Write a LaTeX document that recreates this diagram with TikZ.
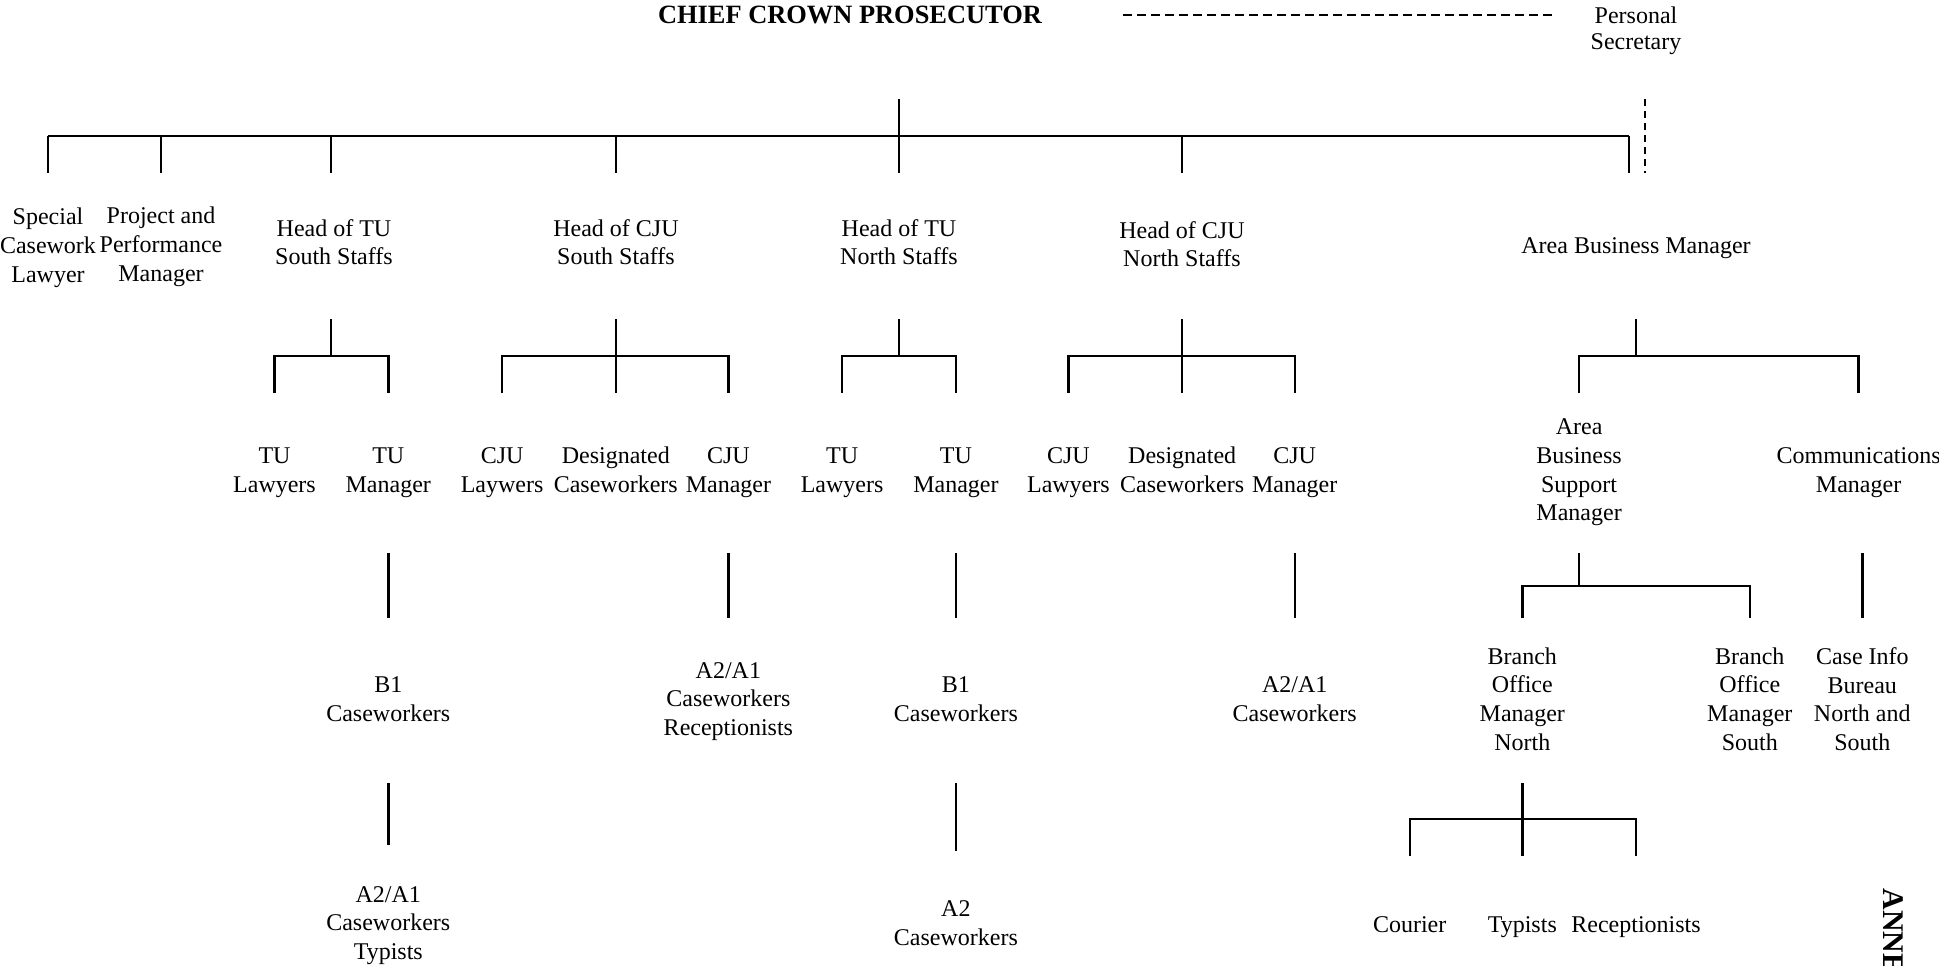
\documentclass[tikz,border=0pt]{standalone}
\usepackage{fontspec}
\setmainfont{Liberation Serif}
\begin{document}
\begin{tikzpicture}[x=0.5pt,y=-0.5pt,
  lbl/.style={align=center, inner sep=0pt, text depth=0pt, font=\fontsize{12}{14.35}\selectfont},
  ttl/.style={inner sep=0pt, font=\bfseries\fontsize{13.2}{15}\selectfont},
  ln/.style={line width=1.2pt},
  dln/.style={line width=1pt, dash pattern=on 4.5pt off 2.5pt}]
\useasboundingbox (0,0) rectangle (1939,965);

% ---------- top ----------
\node[ttl] (ccp) at (850,15) {CHIEF CROWN PROSECUTOR};
\node[lbl, font=\fontsize{12}{13}\selectfont] (ps) at (1636,28) {Personal\\Secretary};
\coordinate (d1) at (1123,15);
\coordinate (d2) at (1553,15);
\draw[dln] (d1) -- (d2);

% ---------- level 1 ----------
\node[lbl] (scl) at (48,245) {Special\\Casework\\Lawyer};
\node[lbl] (ppm) at (161,244) {Project and\\Performance\\Manager};
\node[lbl] (htus) at (334,242) {Head of TU\\South Staffs};
\node[lbl] (hcjus) at (616,242) {Head of CJU\\South Staffs};
\node[lbl] (htun) at (899,242) {Head of TU\\North Staffs};
\node[lbl] (hcjun) at (1182,244) {Head of CJU\\North Staffs};
\node[lbl] (abm) at (1636,246) {Area Business Manager};

% ---------- level 2 ----------
\node[lbl] (tul1) at (274.5,470) {TU\\Lawyers};
\node[lbl] (tum1) at (388.3,470) {TU\\Manager};
\node[lbl] (cjul1) at (502.1,470) {CJU\\Laywers};
\node[lbl] (dc1) at (615.8,470) {Designated\\Caseworkers};
\node[lbl] (cjum1) at (728.4,470) {CJU\\Manager};
\node[lbl] (tul2) at (842.1,470) {TU\\Lawyers};
\node[lbl] (tum2) at (955.9,470) {TU\\Manager};
\node[lbl] (cjul2) at (1068.4,470) {CJU\\Lawyers};
\node[lbl] (dc2) at (1182.2,470) {Designated\\Caseworkers};
\node[lbl] (cjum2) at (1294.7,470) {CJU\\Manager};
\node[lbl] (absm) at (1579.1,470) {Area\\Business\\Support\\Manager};
\node[lbl] (cm) at (1858.6,470) {Communications\\Manager};

% ---------- level 3 ----------
\node[lbl] (b1a) at (388.3,699) {B1\\Caseworkers};
\node[lbl] (a2r) at (728.4,699) {A2/A1\\Caseworkers\\Receptionists};
\node[lbl] (b1b) at (955.9,699) {B1\\Caseworkers};
\node[lbl] (a2c) at (1294.7,699) {A2/A1\\Caseworkers};
\node[lbl] (bomn) at (1522.3,699) {Branch\\Office\\Manager\\North};
\node[lbl] (boms) at (1749.8,699) {Branch\\Office\\Manager\\South};
\node[lbl] (cib) at (1862.3,699) {Case Info\\Bureau\\North and\\South};

% ---------- level 4 ----------
\node[lbl] (a2t) at (388.3,923) {A2/A1\\Caseworkers\\Typists};
\node[lbl] (a2w) at (955.9,923) {A2\\Caseworkers};
\node[lbl] (cour) at (1409.7,925) {Courier};
\node[lbl] (typ) at (1522.3,925) {Typists};
\node[lbl] (rec) at (1636,925) {Receptionists};

% ---------- row levels ----------
\coordinate (yA) at (0,99);
\coordinate (yB) at (0,136);
\coordinate (yC) at (0,173);
\coordinate (y2a) at (0,319);
\coordinate (y2b) at (0,356);
\coordinate (y2c) at (0,393);
\coordinate (y3a) at (0,553);
\coordinate (y3b) at (0,586);
\coordinate (y3c) at (0,618);
\coordinate (y4a) at (0,783);
\coordinate (y4b) at (0,819);
\coordinate (y4c) at (0,856);

% ---------- top bus ----------
\coordinate (bL) at (48,136);
\coordinate (bR) at (1629,136);
\coordinate (sL) at (331,136);
\draw[ln] (htun |- yA) -- (htun |- yC);
\draw[ln] (bL) -- (bR);
\draw[ln] (scl |- yB) -- (scl |- yC);
\draw[ln] (ppm |- yB) -- (ppm |- yC);
\draw[ln] (sL) -- (sL |- yC);
\draw[ln] (hcjus |- yB) -- (hcjus |- yC);
\draw[ln] (hcjun |- yB) -- (hcjun |- yC);
\draw[ln] (bR) -- (bR |- yC);
\coordinate (psd) at (1645,99);
\draw[dln, dash pattern=on 3.5pt off 2.5pt] (psd) -- (psd |- yC);

% ---------- level 2 brackets ----------
\draw[ln] (sL |- y2a) -- (sL |- y2b);
\draw[ln] (tul1 |- y2c) -- (tul1 |- y2b) -- (tum1 |- y2b) -- (tum1 |- y2c);

\draw[ln] (hcjus |- y2a) -- (hcjus |- y2c);
\draw[ln] (cjul1 |- y2c) -- (cjul1 |- y2b) -- (cjum1 |- y2b) -- (cjum1 |- y2c);

\draw[ln] (htun |- y2a) -- (htun |- y2b);
\draw[ln] (tul2 |- y2c) -- (tul2 |- y2b) -- (tum2 |- y2b) -- (tum2 |- y2c);

\draw[ln] (hcjun |- y2a) -- (hcjun |- y2c);
\draw[ln] (cjul2 |- y2c) -- (cjul2 |- y2b) -- (cjum2 |- y2b) -- (cjum2 |- y2c);

\draw[ln] (abm |- y2a) -- (abm |- y2b);
\draw[ln] (absm |- y2c) -- (absm |- y2b) -- (cm |- y2b) -- (cm |- y2c);

% ---------- level 3 ----------
\draw[ln] (tum1 |- y3a) -- (tum1 |- y3c);
\draw[ln] (cjum1 |- y3a) -- (cjum1 |- y3c);
\draw[ln] (tum2 |- y3a) -- (tum2 |- y3c);
\draw[ln] (cjum2 |- y3a) -- (cjum2 |- y3c);
\draw[ln] (absm |- y3a) -- (absm |- y3b);
\draw[ln] (bomn |- y3c) -- (bomn |- y3b) -- (boms |- y3b) -- (boms |- y3c);
\draw[ln] (cib |- y3a) -- (cib |- y3c);

% ---------- level 4 ----------
\draw[ln] (a2t |- y4a) -- (0,845 -| a2t);
\draw[ln] (a2w |- y4a) -- (0,851 -| a2w);
\draw[ln] (bomn |- y4a) -- (bomn |- y4c);
\draw[ln] (cour |- y4c) -- (cour |- y4b) -- (rec |- y4b) -- (rec |- y4c);

% ---------- side label ----------
\begin{scope}
\clip (0,0) rectangle (1939,965);
\node[rotate=-90, anchor=west, inner sep=0pt, font=\bfseries\fontsize{15}{17}\selectfont] (annex) at (1893,888) {ANNEX};
\end{scope}
\end{tikzpicture}
\end{document}
